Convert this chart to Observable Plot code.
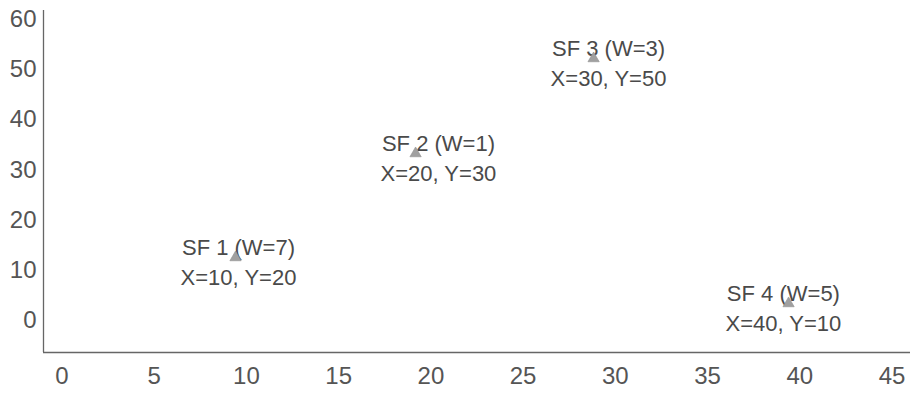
<!DOCTYPE html>
<html>
<head>
<meta charset="utf-8">
<script src="https://cdn.jsdelivr.net/npm/d3@7"></script>
<script src="https://cdn.jsdelivr.net/npm/@observablehq/plot@0.6"></script>
<style>
  html, body { margin: 0; padding: 0; background: #fff; }
  #chart svg { display: block; }
</style>
</head>
<body>
<div id="chart"></div>
<script>
// Tick values
const xTicks = [0, 5, 10, 15, 20, 25, 30, 35, 40, 45];
const yTicks = [0, 10, 20, 30, 40, 50, 60];
const xDomain = [-1, 46];
const yDomain = [-6.35, 61.76];

// Sources (labels as written in the chart)
const names = ["SF 1", "SF 2", "SF 3", "SF 4"];
const weights = [7, 1, 3, 5];
const statedX = [10, 20, 30, 40];
const statedY = [20, 30, 50, 10];

// Where the markers are actually drawn
const markerX = [9.41, 19.17, 28.82, 39.39];
const markerY = [12.57, 33.28, 52.2, 3.41];
// Horizontal centre of each annotation (data units)
const labelX = [9.57, 20.41, 29.63, 39.11];

const data = names.map((n, i) => ({
  name: n, w: weights[i], sx: statedX[i], sy: statedY[i],
  x: markerX[i], y: markerY[i], lx: labelX[i],
  text: `${n} (W=${weights[i]})\nX=${statedX[i]}, Y=${statedY[i]}`
}));

const chart = Plot.plot({
  width: 921,
  height: 393,
  marginTop: 10,
  marginBottom: 41,
  marginLeft: 43,
  marginRight: 11,
  style: { fontFamily: "'Liberation Sans', Arial, sans-serif", color: "#555", background: "#fff" },
  x: { domain: xDomain },
  y: { domain: yDomain },
  marks: [
    Plot.axisX({ ticks: xTicks, tickSize: 0, tickPadding: 14, fontSize: 24, label: null, fill: "#555" }),
    Plot.axisY({ ticks: yTicks, tickSize: 0, tickPadding: 7, fontSize: 24, label: null, fill: "#555" }),
    Plot.ruleX([xDomain[0]], { stroke: "#666", strokeWidth: 1.3 }),
    Plot.ruleY([yDomain[0]], { stroke: "#666", strokeWidth: 1.3 }),
    Plot.text(data, {
      x: "lx", y: "y", text: "text",
      fontSize: 22, lineHeight: 1.36, dy: 3,
      fill: "#4a4a4a", textAnchor: "middle", lineAnchor: "middle"
    }),
    Plot.dot(data, {
      x: "x", y: "y", symbol: "triangle", r: 4.2,
      fill: "#a0a0a0", stroke: "#909090", strokeWidth: 0.6
    })
  ]
});
document.getElementById("chart").appendChild(chart);
</script>
</body>
</html>
